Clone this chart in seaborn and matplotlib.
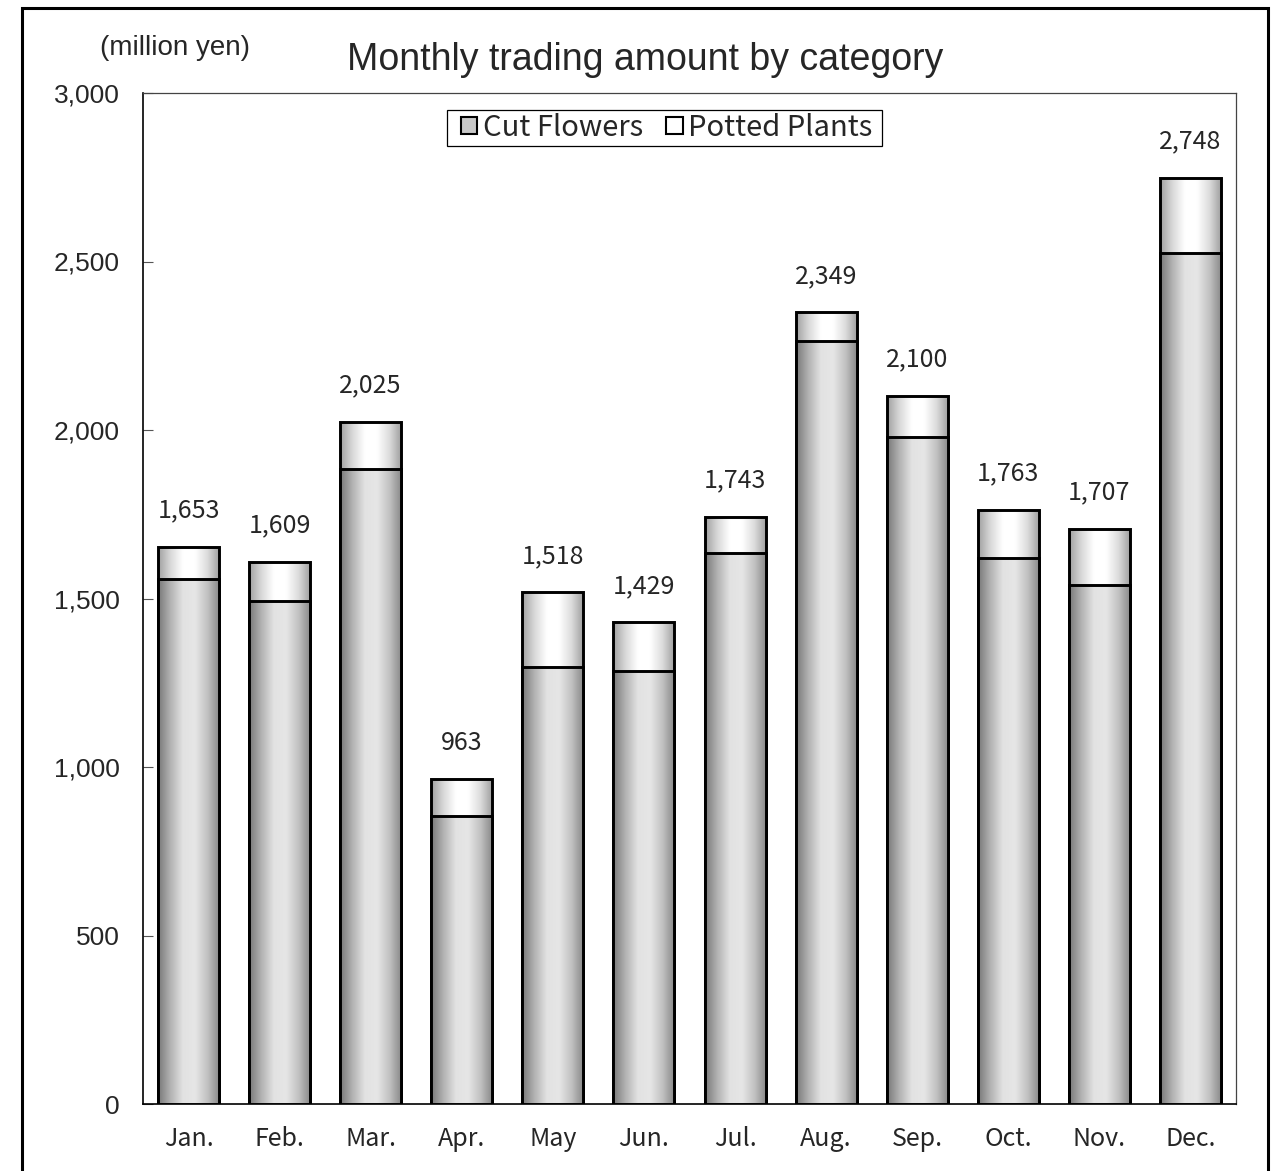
import numpy as np
import pandas as pd
import seaborn as sns
import matplotlib.pyplot as plt
from matplotlib.colors import LinearSegmentedColormap
from matplotlib.patches import Rectangle, Patch

months = ["Jan.", "Feb.", "Mar.", "Apr.", "May", "Jun.",
          "Jul.", "Aug.", "Sep.", "Oct.", "Nov.", "Dec."]
cut_flowers = [1558, 1493, 1884, 855, 1297, 1285, 1635, 2264, 1979, 1620, 1540, 2525]
potted_plants = [95, 116, 141, 108, 221, 144, 108, 85, 121, 143, 167, 223]

df = pd.DataFrame({"month": months, "cut": cut_flowers, "potted": potted_plants})
df["total"] = df["cut"] + df["potted"]

sns.set_style("white")
plt.rcParams["font.family"] = ["Noto Sans CJK JP", "DejaVu Sans"]

W, H = 1272, 1171
fig = plt.figure(figsize=(W / 100, H / 100), dpi=100)
ax = fig.add_axes([143 / W, 1 - 1104 / H, (1236 - 143) / W, (1104 - 93) / H])

# total first, cut flowers drawn over it -> stacked look
sns.barplot(data=df, x="month", y="total", color="white", width=0.67, ax=ax,
            edgecolor="black", linewidth=2.1, saturation=1)
sns.barplot(data=df, x="month", y="cut", color="white", width=0.67, ax=ax,
            edgecolor="black", linewidth=2.1, saturation=1)

cut_cmap = LinearSegmentedColormap.from_list(
    "cut", ["#787878", "#b2b2b2", "#e2e2e2", "#e6e6e6", "#c2c2c2", "#868686"])
pot_cmap = LinearSegmentedColormap.from_list(
    "pot", ["#a0a0a0", "#d8d8d8", "#ffffff", "#ffffff", "#dcdcdc", "#9c9c9c"])
grad = np.linspace(0, 1, 256).reshape(1, -1)

for k, (cont, cmap) in enumerate([(ax.containers[0], pot_cmap), (ax.containers[1], cut_cmap)]):
    for p in cont.patches:
        p.set_facecolor("none")
        p.set_zorder(3 + k)
        x0, y0 = p.get_x(), p.get_y()
        w, h = p.get_width(), p.get_height()
        im = ax.imshow(grad, extent=[x0, x0 + w, y0, y0 + h], aspect="auto",
                       cmap=cmap, zorder=2.5 + k)
        im.set_clip_path(p)

ax.bar_label(ax.containers[0], labels=[f"{v:,}" for v in df["total"]],
             padding=17, fontsize=18)

ax.set_xlim(-0.5, 11.5)
ax.set_ylim(0, 3000)
ax.set_yticks(range(0, 3001, 500))
ax.set_yticklabels([f"{v:,}" for v in range(0, 3001, 500)],
                   family="Liberation Sans", fontsize=19)
ax.set_xlabel("")
ax.set_ylabel("")
ax.set_xticks(np.arange(0.5, 11, 1), minor=True)
ax.tick_params(axis="x", which="major", length=0, pad=16, labelsize=18)
ax.tick_params(axis="x", which="minor", direction="in", length=7, width=0.8, color="#555555")
ax.tick_params(axis="y", direction="in", length=7, width=0.8, pad=17, color="#555555", left=True)

for s in ["left", "bottom"]:
    ax.spines[s].set_color("black")
    ax.spines[s].set_linewidth(1.2)
for s in ["top", "right"]:
    ax.spines[s].set_color("#444444")
    ax.spines[s].set_linewidth(0.9)

# legend: entries without frame, box drawn separately
handles = [Patch(facecolor="#c8c8c8", edgecolor="black", linewidth=1.5, label="Cut Flowers"),
           Patch(facecolor="white", edgecolor="black", linewidth=1.5, label="Potted Plants")]
leg = ax.legend(handles=handles, loc="center left",
                bbox_to_anchor=((461 - 143) / 1093, (1104 - 128) / 1011),
                ncol=2, fontsize=21, frameon=False, handlelength=0.55,
                handleheight=0.55, handletextpad=0.2, columnspacing=0.8,
                borderpad=0, borderaxespad=0)
leg.set_zorder(10)
ax.add_patch(Rectangle(((447 - 143) / 1093, (1104 - 146) / 1011), (882 - 447) / 1093, 36 / 1011,
                       transform=ax.transAxes, facecolor="white", edgecolor="black",
                       linewidth=0.9, zorder=9))

fig.text(645 / W, 1 - 60 / H, "Monthly trading amount by category",
         ha="center", va="center", fontsize=27, family="Liberation Sans")
fig.text(175 / W, 1 - 48 / H, "(million yen)", ha="center", va="center",
         fontsize=20, family="Liberation Sans")

# outer frame
fig.patches.append(Rectangle((22 / W, -0.05), (1268 - 22) / W, 0.05 + 1 - 8 / H,
                             transform=fig.transFigure, fill=False,
                             edgecolor="black", linewidth=2.2))

fig.savefig("out.png", dpi=100)
